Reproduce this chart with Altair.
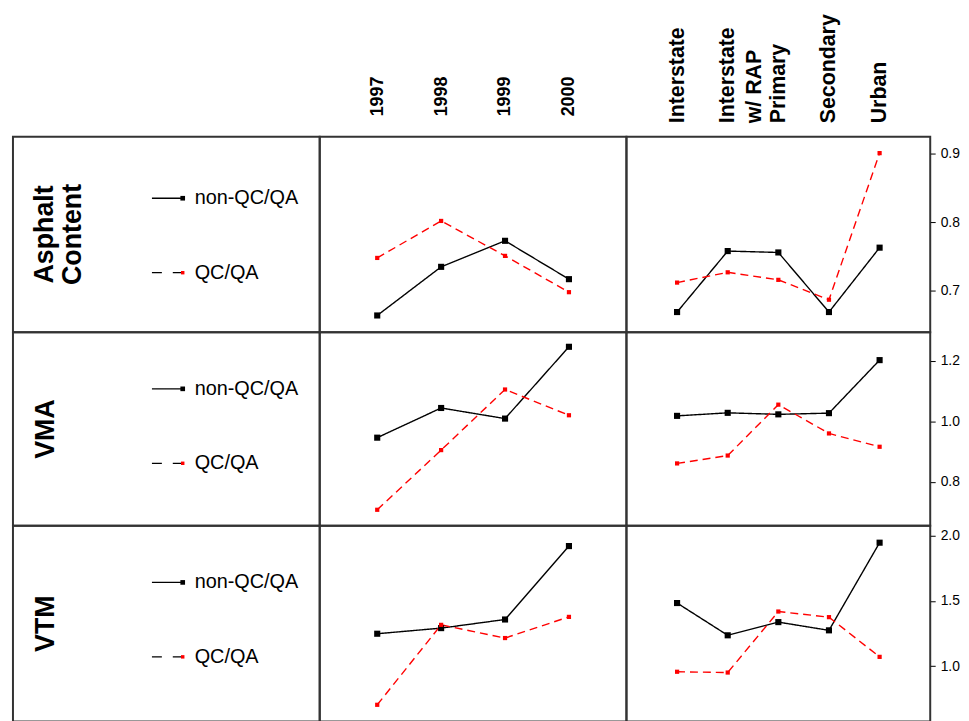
import altair as alt
import pandas as pd

# ---- data ----
row_titles = ["Asphalt Content", "VMA", "VTM"]
series = ["non-QC/QA", "QC/QA"]
years = ["1997", "1998", "1999", "2000"]
roads = ["Interstate", "Interstate w/ RAP", "Primary", "Secondary", "Urban"]

asphalt_year_non = [0.664, 0.735, 0.773, 0.717]
asphalt_year_qc = [0.748, 0.802, 0.751, 0.698]
asphalt_road_non = [0.669, 0.758, 0.756, 0.669, 0.763]
asphalt_road_qc = [0.712, 0.727, 0.716, 0.687, 0.901]

vma_year_non = [0.946, 1.044, 1.009, 1.246]
vma_year_qc = [0.708, 0.905, 1.105, 1.020]
vma_road_non = [1.018, 1.028, 1.023, 1.027, 1.202]
vma_road_qc = [0.861, 0.887, 1.055, 0.960, 0.916]

vtm_year_non = [1.248, 1.291, 1.357, 1.919]
vtm_year_qc = [0.704, 1.316, 1.215, 1.377]
vtm_road_non = [1.483, 1.236, 1.337, 1.274, 1.945]
vtm_road_qc = [0.957, 0.951, 1.418, 1.375, 1.071]

y_domains = [[0.6395, 0.925], [0.655, 1.294], [0.577, 2.074]]
y_ticks = [[0.7, 0.8, 0.9], [0.8, 1.0, 1.2], [1.0, 1.5, 2.0]]

FONT = "Liberation Sans"
ROW_H = [197, 195, 197]
W1, W2, W3 = 309, 309, 306


def data_panel(cats, non, qc, domain, ticks, height, width, pad, top_axis, right_axis,
               label_size, label_pad):
    n = len(cats)
    df = pd.DataFrame({"cat": cats * 2,
                       "series": [series[0]] * n + [series[1]] * n,
                       "value": non + qc})
    if top_axis:
        xaxis = alt.Axis(orient="top", title=None, ticks=False, domain=False,
                         labelAngle=270, labelAlign="left", labelBaseline="middle",
                         labelFont=FONT, labelFontWeight="bold", labelFontSize=label_size,
                         labelColor="black", labelPadding=label_pad, labelLineHeight=27,
                         labelExpr="datum.label == 'Interstate w/ RAP' ? ['Interstate', 'w/ RAP'] : datum.label")
    else:
        xaxis = None
    if right_axis:
        yaxis = alt.Axis(orient="right", title=None, values=ticks, format=".1f",
                         domain=False, grid=False, tickColor="black", tickSize=5,
                         tickWidth=1, labelFont=FONT, labelFontSize=14,
                         labelColor="black", labelPadding=5)
    else:
        yaxis = None
    x = alt.X("cat:N", sort=cats, scale=alt.Scale(type="point", padding=pad), axis=xaxis)
    y = alt.Y("value:Q", scale=alt.Scale(domain=domain, nice=False, zero=False), axis=yaxis)
    color = alt.Color("series:N", scale=alt.Scale(domain=series, range=["#000000", "#ff0000"]),
                      legend=None)
    dash = alt.StrokeDash("series:N", scale=alt.Scale(domain=series, range=[[1, 0], [8, 5]]),
                          legend=None)
    base = alt.Chart(df)
    line = base.mark_line(strokeWidth=1.4).encode(x=x, y=y, color=color, strokeDash=dash)
    pts = base.mark_point(shape="square", filled=True, opacity=1).encode(
        x=x, y=y, color=color,
        size=alt.condition(alt.datum.series == series[0], alt.value(38), alt.value(18)))
    return alt.layer(line, pts).properties(width=width, height=height)


def label_panel(title, height, leg_y, title_x):
    tdf = pd.DataFrame({"title": [title]})
    title_mark = alt.Chart(tdf).mark_text(
        angle=270, font=FONT, fontSize=27, fontWeight="bold", lineBreak=" ",
        lineHeight=29, align="center", baseline="middle", color="black"
    ).encode(x=alt.value(title_x), y=alt.value(height / 2), text="title:N")

    sdf = pd.DataFrame({"series": series})
    ys = alt.Y("series:N", scale=alt.Scale(type="point", domain=series, range=leg_y, padding=0),
               axis=None)
    rule = alt.Chart(sdf).mark_rule(color="black", strokeWidth=1.3).encode(
        x=alt.value(140), x2=alt.value(170), y=ys,
        strokeDash=alt.StrokeDash("series:N",
                                  scale=alt.Scale(domain=series, range=[[1, 0], [10, 11]]),
                                  legend=None))
    mark = alt.Chart(sdf).mark_point(shape="square", filled=True, opacity=1).encode(
        x=alt.value(171), y=ys,
        color=alt.Color("series:N", scale=alt.Scale(domain=series, range=["#000000", "#ff0000"]),
                        legend=None),
        size=alt.condition(alt.datum.series == series[0], alt.value(22), alt.value(12)))
    text = alt.Chart(sdf).mark_text(
        font=FONT, fontSize=20, align="left", baseline="middle", color="black"
    ).encode(x=alt.value(183), y=ys, text="series:N")
    return alt.layer(title_mark, rule, mark, text).properties(width=W1, height=height)


rows_data = [
    (asphalt_year_non, asphalt_year_qc, asphalt_road_non, asphalt_road_qc),
    (vma_year_non, vma_year_qc, vma_road_non, vma_road_qc),
    (vtm_year_non, vtm_year_qc, vtm_road_non, vtm_road_qc),
]
leg_ys = [[62, 137], [57, 132], [57, 132]]
title_xs = [32, 33, 33]

panels = []
for i, (yn, yq, rn, rq) in enumerate(rows_data):
    h = ROW_H[i]
    panels.append(label_panel(row_titles[i], h, leg_ys[i], title_xs[i]))
    panels.append(data_panel(years, yn, yq, y_domains[i], y_ticks[i], h, W2, 0.9,
                             i == 0, False, 18, 21))
    panels.append(data_panel(roads, rn, rq, y_domains[i], y_ticks[i], h, W3, 1.19,
                             i == 0, True, 21.5, 14))

chart = alt.concat(*panels, columns=3, spacing=0, bounds="flush").properties(
    padding={"left": 4, "top": 2, "right": 0, "bottom": 0},
    background="white",
).configure_view(stroke="#333333", strokeWidth=2).resolve_scale(
    x="independent", y="independent", color="independent", strokeDash="independent"
)

chart.save("out.html", embed_options={"renderer": "svg", "actions": False})
